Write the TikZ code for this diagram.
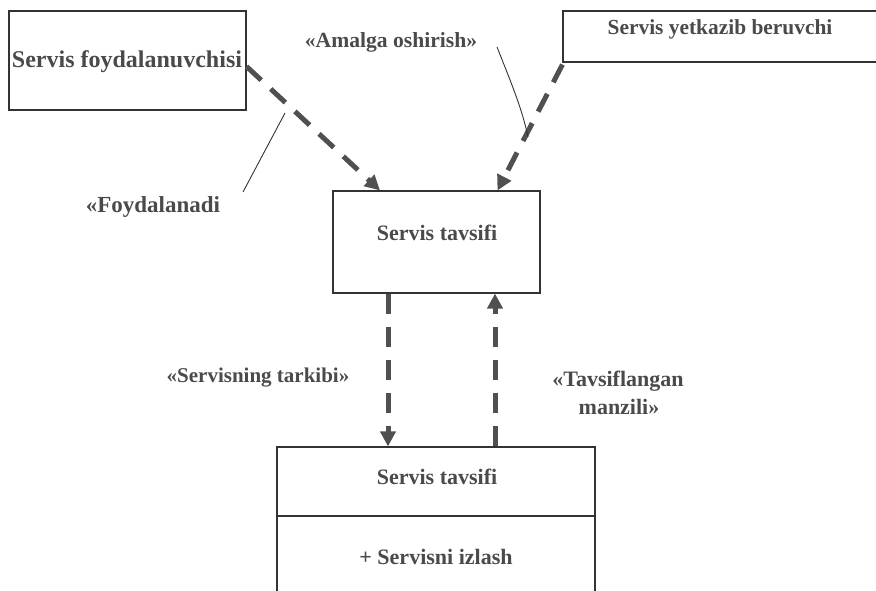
\documentclass[tikz,border=0pt]{standalone}
\usepackage{fontspec}
\setmainfont{Liberation Serif}
\usetikzlibrary{arrows.meta}
\definecolor{ink}{HTML}{4A4A4A}
\definecolor{frame}{HTML}{333333}
\definecolor{dashc}{HTML}{505050}
\begin{document}
\begin{tikzpicture}[x=1pt,y=-1pt,
  box/.style={draw=frame, line width=1.1pt, inner sep=0pt},
  txt/.style={text=ink, font=\fontsize{22}{26}\selectfont\bfseries, inner sep=0pt},
  dep/.style={draw=dashc, line width=5pt, dash pattern=on 20pt off 13pt,
    -{Triangle[length=15pt,width=15pt]}},
  lead/.style={draw=frame, line width=0.9pt}]
\useasboundingbox (0,0) rectangle (876,591);
\clip (0,0) rectangle (876,591);

% class boxes
\node[box, minimum width=237pt, minimum height=99pt] (A) at (127.5,60.5) {};
\node[box, minimum width=327pt, minimum height=51pt] (B) at (726.5,36.5) {};
\node[box, minimum width=207pt, minimum height=102pt] (C) at (436.5,242) {};
\node[box, minimum width=318pt, minimum height=69pt] (D1) at (436,481.5) {};
\node[box, minimum width=318pt, minimum height=84pt] (D2) at (436,558) {};

% box texts
\node[txt, font=\fontsize{24}{28}\selectfont\bfseries] (At) at (127,62) {Servis foydalanuvchisi};
\node[txt, font=\fontsize{21.4}{25}\selectfont\bfseries] (Bt) at (720,29) {Servis yetkazib beruvchi};
\node[txt] (Ct) at (437,233) {Servis tavsifi};
\node[txt] (D1t) at (437,477) {Servis tavsifi};
\node[txt] (D2t) at (436,557) {+ Servisni izlash};

% stereotype labels
\node[txt, font=\fontsize{21.6}{25}\selectfont\bfseries] (lAm) at (391,42) {«Amalga oshirish»};
\node[txt, font=\fontsize{23}{27}\selectfont\bfseries] (lFo) at (153,207) {«Foydalanadi};
\node[txt, font=\fontsize{21}{25}\selectfont\bfseries] (lSt) at (258,378) {«Servisning tarkibi»};
\node[txt] (lTa) at (618,381) {«Tavsiflangan};
\node[txt] (lMa) at (619,407) {manzili»};

% dependencies
\draw[dep] ([yshift=-6pt]A.east) -- ([xshift=-56.5pt]C.north);
\draw[dep] ([yshift=-2pt]B.south west) -- ([xshift=61pt]C.north);
\draw[dep] ([xshift=-48.5pt]C.south) -- ([xshift=-48pt]D1.north);
\draw[dep] ([xshift=59pt]D1.north) -- ([xshift=58.5pt]C.south);

% leader lines from labels to their arrows
\coordinate (amA) at (497,47);
\coordinate (amB) at (528,137);
\coordinate (fyA) at (243,192);
\coordinate (fyB) at (285,113);
\draw[lead] (amA) .. controls (510,80) and (522,108) .. (amB);
\draw[lead] (fyA) -- (fyB);
\end{tikzpicture}
\end{document}
